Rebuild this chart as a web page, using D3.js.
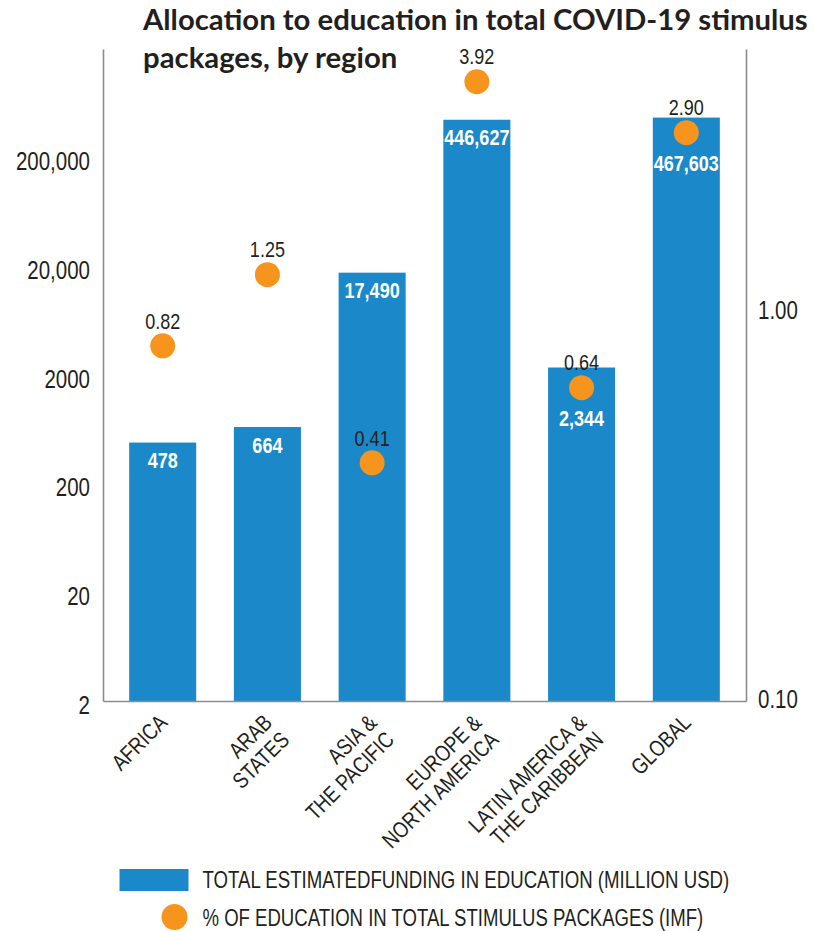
<!DOCTYPE html>
<html>
<head>
<meta charset="utf-8">
<script src="https://cdn.jsdelivr.net/npm/d3@7"></script>
<style>
  body { margin: 0; background: #fff; }
  svg text { fill: #231f20; }
  .narrow { font-family: "Liberation Sans", Arial, sans-serif; }
</style>
</head>
<body>
<div id="chart"></div>
<script>
// Education share of COVID-19 stimulus, by region
// bars = funding (log, left axis), dots = % of package (log, right axis)

const regions = ["AFRICA", "ARAB\nSTATES", "ASIA &\nTHE PACIFIC", "EUROPE &\nNORTH AMERICA", "LATIN AMERICA &\nTHE CARIBBEAN", "GLOBAL"];
const funding = [478, 664, 17490, 446627, 2344, 467603];
const fundingLabels = ["478", "664", "17,490", "446,627", "2,344", "467,603"];
const share = [0.82, 1.25, 0.41, 3.92, 0.64, 2.90];
const shareLabels = ["0.82", "1.25", "0.41", "3.92", "0.64", "2.90"];
const leftTicks = [2, 20, 200, 2000, 20000, 200000];
const leftTickLabels = ["2", "20", "200", "2000", "20,000", "200,000"];
const rightTicks = [0.1, 1];
const rightTickLabels = ["0.10", "1.00"];
const legendLabels = ["TOTAL ESTIMATEDFUNDING IN EDUCATION (MILLION USD)", "% OF EDUCATION IN TOTAL STIMULUS PACKAGES (IMF)"];

const width = 814;
const height = 931;
const blue = "#1a88c9";
const orange = "#f7941d";
const axisGrey = "#8c8c8c";
const narrowScale = 0.82; // no condensed face installed, so squeeze Liberation Sans

// plot box
const plotLeft = 103, plotRight = 746, plotTop = 49, plotBottom = 701;

// squeeze text horizontally around its own anchor point
function condense(sel, sx) {
    sel.each(function () {
        const t = d3.select(this);
        const x0 = +t.attr("x") || 0;
        const y0 = +t.attr("y") || 0;
        const prev = t.attr("transform") || "";
        t.attr("transform", `${prev} translate(${x0},${y0}) scale(${sx},1) translate(${-x0},${-y0})`);
    });
}

const svg = d3.select("#chart")
    .append("svg")
    .attr("width", width)
    .attr("height", height);

const data = regions.map((r, i) => ({
    region: r, funding: funding[i], fundingLabel: fundingLabels[i],
    share: share[i], shareLabel: shareLabels[i]
}));

// Scales
const x = d3.scaleBand()
    .domain(regions)
    .range([plotLeft, plotRight])
    .paddingInner(0.36)
    .paddingOuter(0.25);

const yLeft = d3.scaleLog()
    .domain([2, 2000000])
    .range([plotBottom, plotTop]);

const yRight = d3.scaleLog()
    .domain([0.1, 4.76])
    .range([plotBottom, plotTop]);

// Bars
svg.append("g")
    .selectAll("rect")
    .data(data)
    .join("rect")
    .attr("x", d => x(d.region))
    .attr("width", x.bandwidth())
    .attr("y", d => yLeft(d.funding))
    .attr("height", d => plotBottom - yLeft(d.funding))
    .attr("fill", blue);

// Axes
const axLeft = svg.append("g")
    .attr("transform", `translate(${plotLeft},0)`)
    .call(d3.axisLeft(yLeft)
        .tickValues(leftTicks)
        .tickFormat((d, i) => leftTickLabels[i])
        .tickSize(0)
        .tickPadding(13));

const axRight = svg.append("g")
    .attr("transform", `translate(${plotRight},0)`)
    .call(d3.axisRight(yRight)
        .tickValues(rightTicks)
        .tickFormat((d, i) => rightTickLabels[i])
        .tickSize(0)
        .tickPadding(12));

const axBottom = svg.append("g")
    .attr("transform", `translate(0,${plotBottom})`)
    .call(d3.axisBottom(x).tickSize(0).tickFormat(""));

[axLeft, axRight, axBottom].forEach(ax => {
    ax.select(".domain").attr("stroke", axisGrey).attr("stroke-width", 1.6);
    ax.selectAll(".tick text")
        .attr("class", "narrow")
        .style("font-size", "25px")
        .attr("fill", "#231f20");
});
axLeft.selectAll(".tick text").attr("dy", "0.48em");
axRight.selectAll(".tick text").attr("dy", "0.24em");
condense(axLeft.selectAll(".tick text"), narrowScale);
condense(axRight.selectAll(".tick text"), narrowScale);

// Category labels, rotated 45 degrees
const xLabels = svg.append("g")
    .selectAll("text")
    .data(data)
    .join("text")
    .attr("class", "narrow")
    .attr("text-anchor", "end")
    .style("font-size", "22.5px")
    .attr("transform", d => `translate(${x(d.region) + x.bandwidth() / 2 + 6},724) rotate(-45)`);

xLabels.selectAll("tspan")
    .data(d => d.region.split("\n"))
    .join("tspan")
    .attr("x", 0)
    .attr("dy", (d, i) => i === 0 ? 0 : "1.08em")
    .text(d => d);
condense(xLabels, narrowScale);

// Dots
svg.append("g")
    .selectAll("circle")
    .data(data)
    .join("circle")
    .attr("cx", d => x(d.region) + x.bandwidth() / 2)
    .attr("cy", d => yRight(d.share))
    .attr("r", 12.5)
    .attr("fill", orange);

// Dot labels above the dots
const dotLabels = svg.append("g")
    .selectAll("text")
    .data(data)
    .join("text")
    .attr("class", "narrow")
    .attr("text-anchor", "middle")
    .style("font-size", "22px")
    .attr("x", d => x(d.region) + x.bandwidth() / 2)
    .attr("y", d => yRight(d.share) - 25)
    .attr("dy", "0.35em")
    .text(d => d.shareLabel);
condense(dotLabels, narrowScale);

// Bar value labels, pushed under the dot when the dot sits just inside the bar top
const barLabels = svg.append("g")
    .selectAll("text")
    .data(data)
    .join("text")
    .attr("class", "narrow")
    .attr("text-anchor", "middle")
    .style("font-size", "22px")
    .style("font-weight", "bold")
    .style("fill", "#fff")
    .attr("x", d => x(d.region) + x.bandwidth() / 2)
    .attr("y", d => {
        const barTop = yLeft(d.funding);
        const dotY = yRight(d.share);
        const gap = dotY - barTop;
        if (gap > -12 && gap < 45) return dotY + 31;
        return barTop + 18;
    })
    .attr("dy", "0.35em")
    .text(d => d.fundingLabel);
condense(barLabels, narrowScale);

// Title (two lines), fitted to the original width
const title = svg.append("text")
    .attr("x", 143)
    .attr("y", 30)
    .style("font-family", "Lato, 'Open Sans', sans-serif")
    .style("font-weight", "bold")
    .style("font-size", "26px")
    .attr("fill", "#000");
title.append("tspan").attr("x", 143).attr("y", 30).text("Allocation to education in total COVID-19 stimulus");
title.append("tspan").attr("x", 143).attr("y", 68).text("packages, by region");
const firstLine = title.select("tspan").node().getComputedTextLength();
title.style("font-size", (26 * 665 / firstLine) + "px");

// Legend
const legend = svg.append("g");
legend.append("rect")
    .attr("x", 119.5)
    .attr("y", 869)
    .attr("width", 69)
    .attr("height", 22)
    .attr("fill", blue);
legend.append("circle")
    .attr("cx", 174.5)
    .attr("cy", 917)
    .attr("r", 13)
    .attr("fill", orange);
const legendWidths = [527, 501];
legend.selectAll("text.leg")
    .data(legendLabels)
    .join("text")
    .attr("class", "narrow leg")
    .style("font-size", "23px")
    .attr("x", 202.5)
    .attr("y", (d, i) => i === 0 ? 880 : 918)
    .attr("dy", "0.35em")
    .text(d => d)
    .each(function (d, i) {
        const w = this.getComputedTextLength();
        condense(d3.select(this), legendWidths[i] / w);
    });
</script>
</body>
</html>
